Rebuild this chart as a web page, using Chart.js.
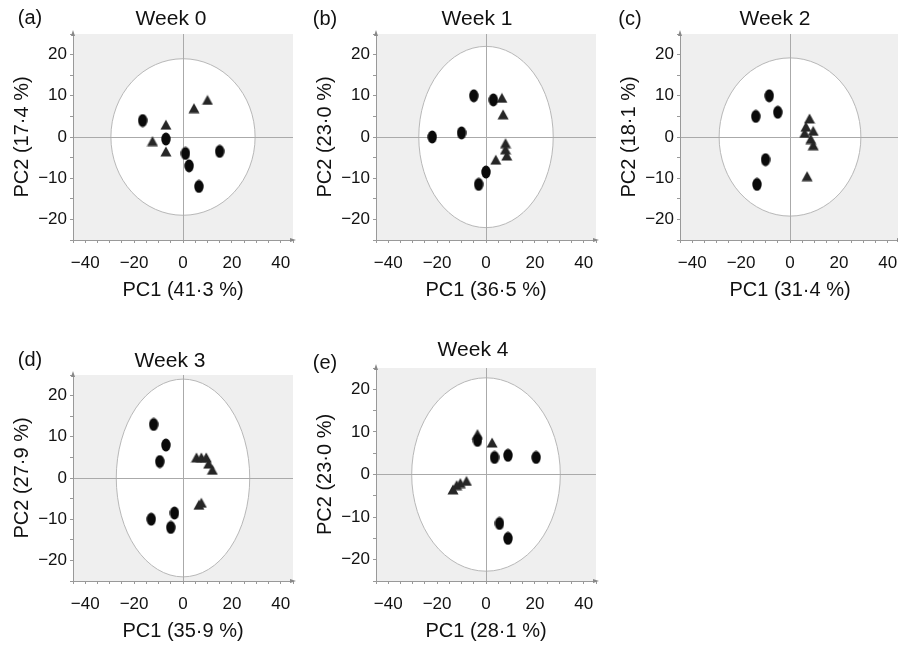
<!DOCTYPE html>
<html>
<head>
<meta charset="utf-8">
<script src="https://cdn.jsdelivr.net/npm/chart.js@4.4.0/dist/chart.umd.min.js"></script>
<style>
  html, body { margin: 0; padding: 0; background: #fff; overflow: hidden; }
  #page { position: relative; width: 898px; height: 646px; overflow: hidden; font-family: "Liberation Sans", Arial, sans-serif; color: #111; }
  .panel { position: absolute; }
  .lbl { position: absolute; font-size: 20px; line-height: 20px; white-space: nowrap; transform: translate(-50%, -50%); }
  .wk { font-size: 21px; }
</style>
</head>
<body>
<div id="page"></div>
<script>
const weeks = ['Week 0', 'Week 1', 'Week 2', 'Week 3', 'Week 4'];
const letters = ['(a)', '(b)', '(c)', '(d)', '(e)'];
const pc1Labels = ['PC1 (41·3 %)', 'PC1 (36·5 %)', 'PC1 (31·4 %)', 'PC1 (35·9 %)', 'PC1 (28·1 %)'];
const pc2Labels = ['PC2 (17·4 %)', 'PC2 (23·0 %)', 'PC2 (18·1 %)', 'PC2 (27·9 %)', 'PC2 (23·0 %)'];
const xTickLabels = [-40, -20, 0, 20, 40];
const yTickLabels = [-20, -10, 0, 10, 20];

// Hotelling ellipse half-axes, in PC1 / PC2 units
const ellipseRx = [29.5, 27.5, 29, 27.3, 30.4];
const ellipseRy = [19, 22, 19.2, 24, 22.7];

// scores [PC1, PC2]
const circlesW0 = [[-16.5, 4], [-7, -0.5], [1, -4], [2.5, -7], [6.5, -12], [15, -3.5]];
const trianglesW0 = [[-12.5, -1], [-7, 3], [-7, -3.5], [4.5, 7], [10, 9]];
const circlesW1 = [[-22, 0], [-10, 1], [-5, 10], [3, 9], [0, -8.5], [-3, -11.5]];
const trianglesW1 = [[6.5, 9.5], [7, 5.5], [8, -1.5], [8, -3], [8.5, -4.5], [4, -5.5]];
const circlesW2 = [[-8.5, 10], [-14, 5], [-5, 6], [-10, -5.5], [-13.5, -11.5]];
const trianglesW2 = [[8, 4.5], [6.5, 2.5], [6, 1], [9.5, 1.5], [8.5, -0.5], [9.5, -2], [7, -9.5]];
const circlesW3 = [[-12, 13], [-7, 8], [-9.5, 4], [-13, -10], [-3.5, -8.5], [-5, -12]];
const trianglesW3 = [[5.5, 5], [7.5, 5], [9.5, 5], [10.5, 3.5], [12, 2], [6.5, -6.5], [7.5, -6]];
const circlesW4 = [[-3.5, 8], [3.5, 4], [9, 4.5], [20.5, 4], [5.5, -11.5], [9, -15]];
const trianglesW4 = [[-3.5, 9.5], [2.5, 7.5], [-8, -1.5], [-10.5, -2], [-12, -2.5], [-13.5, -3.5]];

const circles = [circlesW0, circlesW1, circlesW2, circlesW3, circlesW4];
const triangles = [trianglesW0, trianglesW1, trianglesW2, trianglesW3, trianglesW4];

// where each panel sits on the page
const layout = [
  { left: 0, top: 0, padTop: 34, plotH: 206, title: [171, 18], letter: [30, 17] },
  { left: 303, top: 0, padTop: 34, plotH: 206, title: [477, 18], letter: [325, 18] },
  { left: 607, top: 0, padTop: 34, plotH: 206, title: [775, 18], letter: [630, 18] },
  { left: 0, top: 342, padTop: 33, plotH: 206, title: [170, 360], letter: [30, 359] },
  { left: 303, top: 335, padTop: 33, plotH: 213, title: [473, 349], letter: [325, 362] }
];

const FONT = '"Liberation Sans", Arial, sans-serif';
const fmt = v => String(v).replace('-', '\u2212');

function makeOval() {
  const c = document.createElement('canvas');
  c.width = 10; c.height = 14;
  const g = c.getContext('2d');
  g.fillStyle = '#0a0a0a';
  g.beginPath();
  g.ellipse(5, 7, 4.7, 6.5, 0, 0, Math.PI * 2);
  g.fill();
  return c;
}

function makeTriangle() {
  const c = document.createElement('canvas');
  c.width = 12; c.height = 11;
  const g = c.getContext('2d');
  g.fillStyle = '#262626';
  g.beginPath();
  g.moveTo(6, 0.5);
  g.lineTo(11.5, 10.5);
  g.lineTo(0.5, 10.5);
  g.closePath();
  g.fill();
  return c;
}

const oval = makeOval();
const tri = makeTriangle();

// grey plot area, white confidence ellipse, little axis arrows
const pcaBackdrop = {
  id: 'pcaBackdrop',
  beforeDraw(chart, args, opts) {
    const { ctx, chartArea: a, scales: { x, y } } = chart;
    ctx.save();
    ctx.fillStyle = '#efefef';
    ctx.fillRect(a.left, a.top, a.width, a.height);
    const cx = x.getPixelForValue(0), cy = y.getPixelForValue(0);
    const rx = Math.abs(x.getPixelForValue(opts.rx) - cx);
    const ry = Math.abs(y.getPixelForValue(opts.ry) - cy);
    ctx.beginPath();
    ctx.ellipse(cx, cy, rx, ry, 0, 0, Math.PI * 2);
    ctx.fillStyle = '#fff';
    ctx.fill();
    ctx.strokeStyle = '#b8b8b8';
    ctx.lineWidth = 1;
    ctx.stroke();
    ctx.restore();
  },
  afterDraw(chart) {
    const { ctx, chartArea: a } = chart;
    ctx.save();
    ctx.fillStyle = '#888';
    ctx.beginPath();
    ctx.moveTo(a.left, a.top - 4);
    ctx.lineTo(a.left - 2, a.top + 2);
    ctx.lineTo(a.left + 2, a.top + 2);
    ctx.fill();
    ctx.beginPath();
    ctx.moveTo(a.right + 3, a.bottom);
    ctx.lineTo(a.right - 3, a.bottom - 2);
    ctx.lineTo(a.right - 3, a.bottom + 2);
    ctx.fill();
    ctx.restore();
  }
};

const page = document.getElementById('page');

function addText(txt, pos, cls) {
  const d = document.createElement('div');
  d.className = 'lbl ' + cls;
  d.textContent = txt;
  d.style.left = pos[0] + 'px';
  d.style.top = pos[1] + 'px';
  page.appendChild(d);
}

function zeroOnly(c) {
  return c.tick && c.tick.value === 0 ? '#aaaaaa' : 'rgba(0,0,0,0)';
}

function makePanel(i) {
  const L = layout[i];
  // tick padding (10) is added on the right of the x scale, so the canvas is a bit wider
  const w = 303, h = L.padTop + L.plotH + 65;
  const wrap = document.createElement('div');
  wrap.className = 'panel';
  wrap.style.left = L.left + 'px';
  wrap.style.top = L.top + 'px';
  const cv = document.createElement('canvas');
  cv.width = w; cv.height = h;
  cv.style.width = w + 'px'; cv.style.height = h + 'px';
  wrap.appendChild(cv);
  page.appendChild(wrap);

  new Chart(cv, {
    type: 'scatter',
    data: {
      datasets: [
        { data: circles[i].map(p => ({ x: p[0], y: p[1] })), pointStyle: oval, pointRadius: 6 },
        { data: triangles[i].map(p => ({ x: p[0], y: p[1] })), pointStyle: tri, pointRadius: 6 }
      ]
    },
    options: {
      responsive: false,
      animation: false,
      events: [],
      layout: { padding: { top: L.padTop, right: 0, left: 0, bottom: 0 } },
      plugins: {
        legend: { display: false },
        tooltip: { enabled: false },
        pcaBackdrop: { rx: ellipseRx[i], ry: ellipseRy[i] }
      },
      scales: {
        x: {
          type: 'linear', min: -45, max: 45,
          afterFit(s) { s.height = 65; },
          ticks: {
            stepSize: 5, autoSkip: false, maxRotation: 0, padding: 10,
            color: '#111', font: { size: 17, family: FONT },
            callback: v => xTickLabels.includes(v) ? fmt(v) : ''
          },
          grid: { color: zeroOnly, tickColor: '#999', tickLength: 3, lineWidth: 1 },
          border: { color: '#999' },
          title: {
            display: true, text: pc1Labels[i], color: '#111',
            font: { size: 20, family: FONT }, padding: { top: 0, bottom: 3 }
          }
        },
        y: {
          type: 'linear', min: -25, max: 25,
          afterFit(s) { s.width = 73; },
          ticks: {
            stepSize: 5, autoSkip: false, padding: 3,
            color: '#111', font: { size: 17, family: FONT },
            callback: v => yTickLabels.includes(v) ? fmt(v) : ''
          },
          grid: { color: zeroOnly, tickColor: '#999', tickLength: 3, lineWidth: 1 },
          border: { color: '#999' },
          title: {
            display: true, text: pc2Labels[i], color: '#111',
            font: { size: 20, family: FONT }, padding: { top: 10, bottom: 0 }
          }
        }
      }
    },
    plugins: [pcaBackdrop]
  });

  addText(weeks[i], L.title, 'wk');
  addText(letters[i], L.letter, '');
}

for (let i = 0; i < weeks.length; i++) makePanel(i);
</script>
</body>
</html>
